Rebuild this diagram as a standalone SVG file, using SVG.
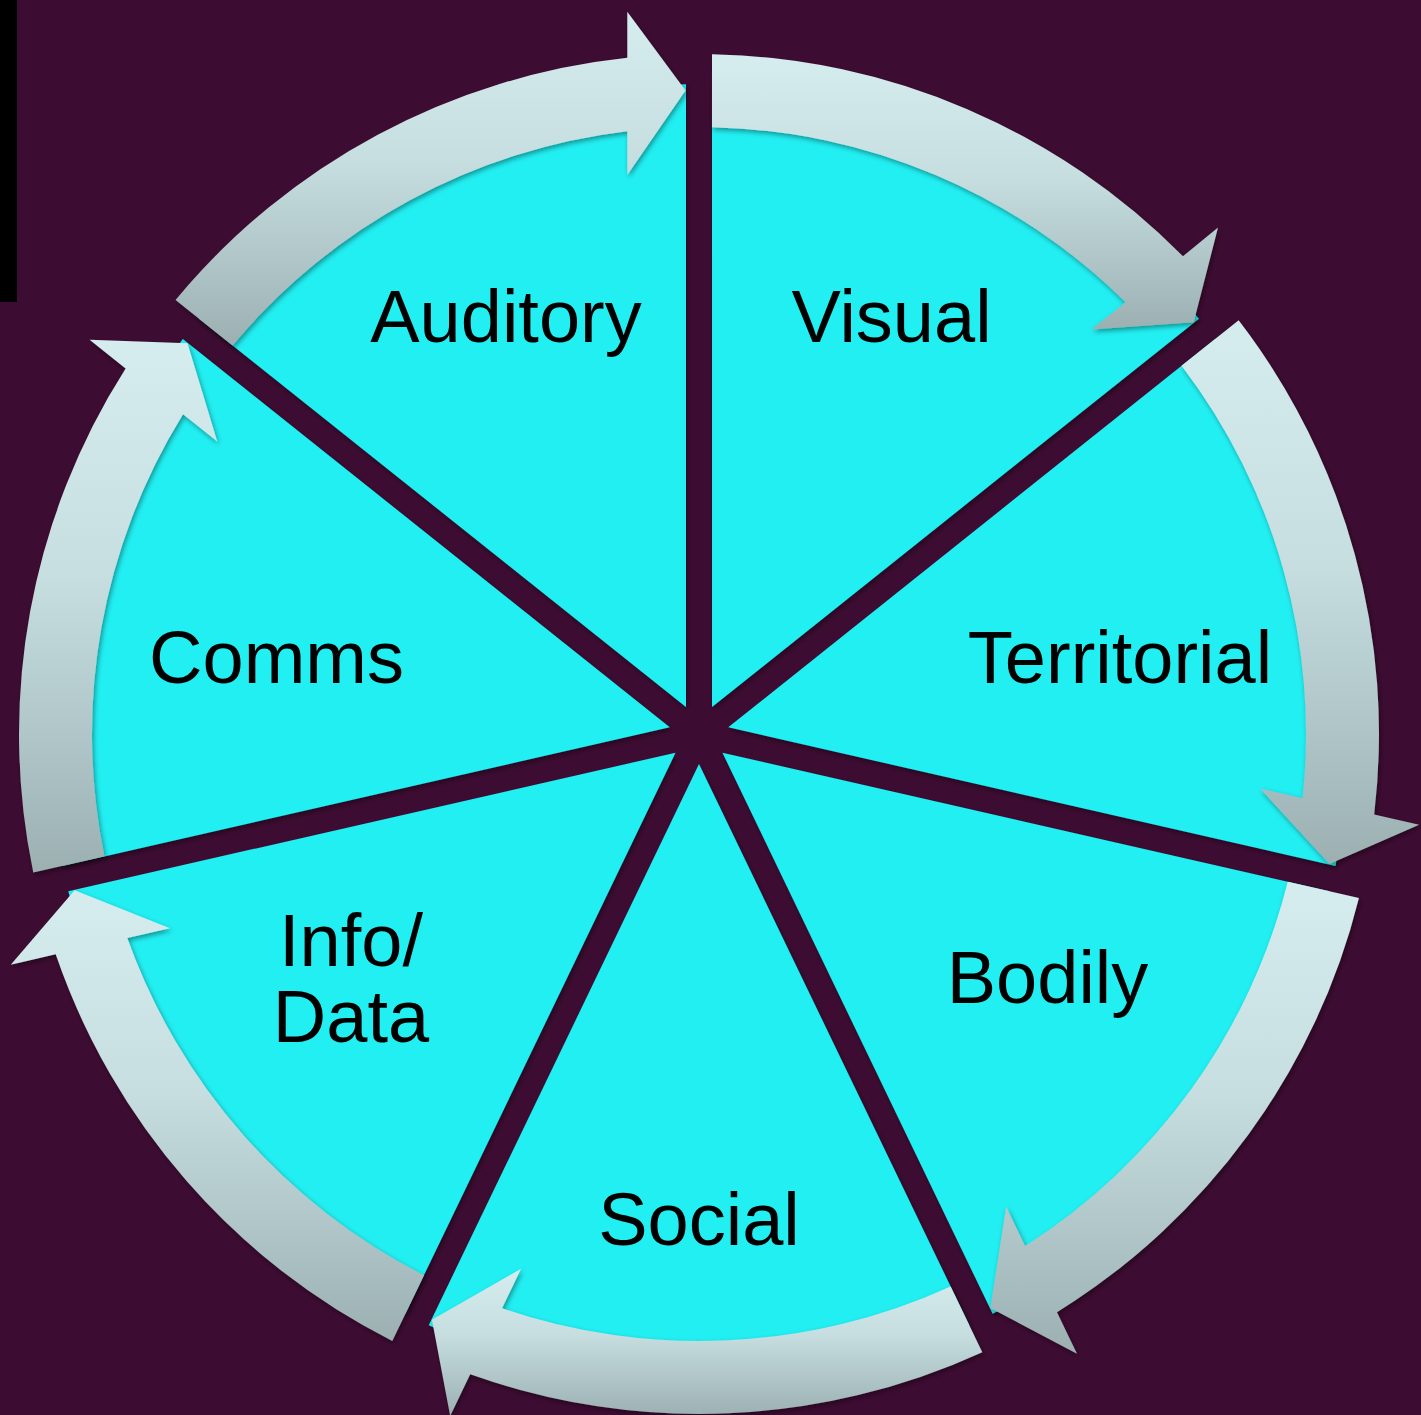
<svg xmlns="http://www.w3.org/2000/svg" width="1421" height="1415" viewBox="0 0 1421 1415">
<style>
.wedge{fill:#21EFF2;filter:url(#sh);}
.arrow{fill:url(#ag);filter:url(#sh);}
.lbl{font-family:"Liberation Sans",Arial,Helvetica,sans-serif;font-size:74px;fill:#000;text-anchor:middle;}
</style>
<defs>
<linearGradient id="ag" x1="0" y1="0" x2="0" y2="1">
<stop offset="0" stop-color="#D5EDEF"/>
<stop offset="0.45" stop-color="#C6DEE0"/>
<stop offset="1" stop-color="#9CB0B2"/>
</linearGradient>
<filter id="sh" x="-10%" y="-10%" width="120%" height="120%">
<feDropShadow dx="1.5" dy="2.5" stdDeviation="2.5" flood-color="#000" flood-opacity="0.4"/>
</filter>
</defs>
<rect x="0" y="0" width="1421" height="1415" fill="#3D0C32"/>
<rect x="0" y="0" width="17" height="302" fill="#000"/>

<g id="node-auditory">
<path class="wedge" d="M685.98,706.97 L199.02,318.65 A650,650 0 0 1 686.0,84.13 Z"/>
<path class="arrow" d="M175.56,299.94 A680,680 0 0 1 627.3,57.8 L627.3,11.7 L685.5,90.5 L627.3,175.0 L627.3,131.25 A607,607 0 0 0 232.64,345.47 Z"/>
<text class="lbl" x="506" y="342">Auditory</text>
</g>

<g id="node-visual">
<path class="wedge" d="M712.02,706.97 L712.01,84.13 A650,650 0 0 1 1198.98,318.65 Z"/>
<path class="arrow" d="M712.0,54.13 A680,680 0 0 1 1182.97,256.34 L1218.02,227.59 L1193.7,322.23 L1091.34,329.41 L1125.54,302.14 A607,607 0 0 0 711.99,127.15 Z"/>
<text class="lbl" x="891.5" y="342">Visual</text>
</g>

<g id="node-territorial">
<path class="wedge" d="M728.25,727.32 L1215.19,338.97 A650,650 0 0 1 1335.47,865.94 Z"/>
<path class="arrow" d="M1238.66,320.27 A680,680 0 0 1 1374.2,814.57 L1419.15,824.83 L1329.37,864.03 L1259.94,788.49 L1302.59,798.22 A607,607 0 0 0 1181.56,365.79 Z"/>
<text class="lbl" x="1120" y="683">Territorial</text>
</g>

<g id="node-bodily">
<path class="wedge" d="M722.45,752.7 L1329.69,891.28 A650,650 0 0 1 992.67,1313.87 Z"/>
<path class="arrow" d="M1358.93,897.96 A680,680 0 0 1 1056.99,1312.13 L1076.99,1353.66 L990.36,1307.91 L1006.14,1206.53 L1025.12,1245.95 A607,607 0 0 0 1287.76,881.71 Z"/>
<text class="lbl" x="1047.5" y="1003">Bodily</text>
</g>

<g id="node-social">
<path class="wedge" d="M699,764 L969.25,1325.15 A650,650 0 0 1 428.75,1325.15 Z"/>
<path class="arrow" d="M982.27,1352.18 A680,680 0 0 1 470.21,1374.35 L450.21,1415.88 L431.96,1319.63 L521.06,1268.75 L502.08,1308.17 A607,607 0 0 0 950.6,1286.39 Z"/>
<text class="lbl" x="699" y="1245">Social</text>
</g>

<g id="node-infodata">
<path class="wedge" d="M675.55,752.7 L405.33,1313.87 A650,650 0 0 1 68.31,891.28 Z"/>
<path class="arrow" d="M392.3,1340.91 A680,680 0 0 1 55.7,954.37 L10.76,964.63 L74.63,890.35 L169.96,928.29 L127.31,938.02 A607,607 0 0 0 423.98,1275.13 Z"/>
<text class="lbl" x="351" y="966">Info/</text>
<text class="lbl" x="351" y="1042">Data</text>
</g>

<g id="node-comms">
<path class="wedge" d="M669.75,727.32 L62.53,865.94 A650,650 0 0 1 182.81,338.97 Z"/>
<path class="arrow" d="M33.28,872.61 A680,680 0 0 1 125.63,368.46 L89.58,339.71 L187.47,343.33 L217.26,441.53 L183.05,414.25 A607,607 0 0 0 104.47,856.37 Z"/>
<text class="lbl" x="276.5" y="683">Comms</text>
</g>

<g id="connectors"></g>
</svg>
